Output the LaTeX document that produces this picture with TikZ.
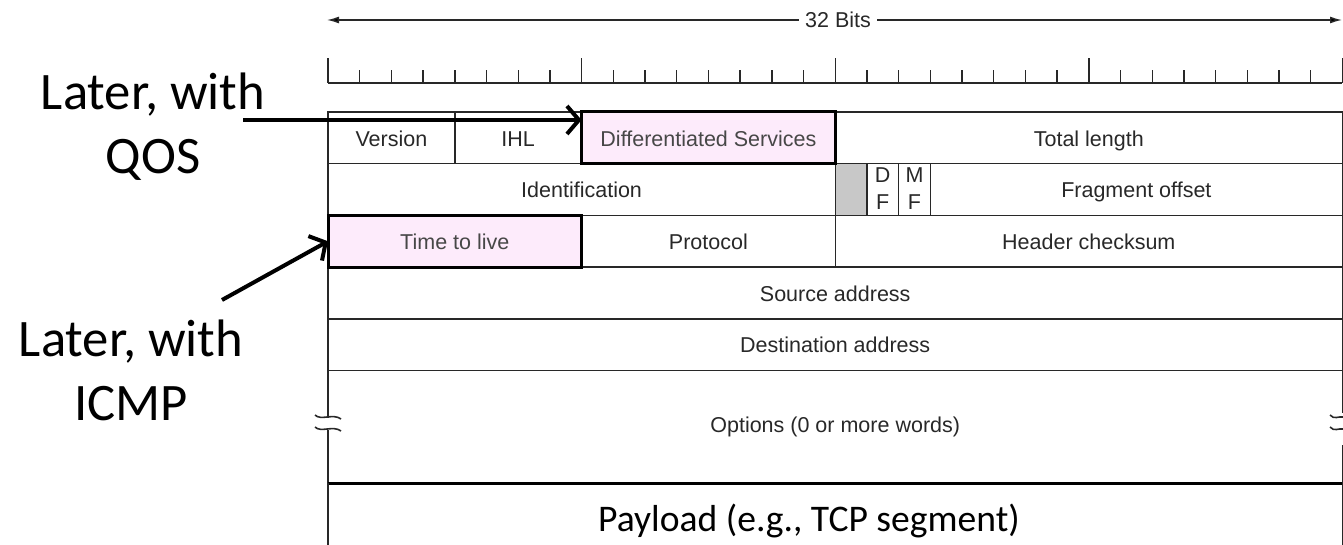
\documentclass[tikz,border=0pt]{standalone}
\usepackage{fontspec}
\setmainfont{Liberation Sans}
\newfontfamily\slidefont{Carlito}
\usetikzlibrary{arrows.meta,positioning}
\definecolor{ink}{RGB}{40,40,40}
\definecolor{qospink}{RGB}{253,235,251}
\definecolor{unused}{RGB}{200,200,200}

\begin{document}
\begin{tikzpicture}[x=1pt,y=-1pt,
		cell/.style={draw=ink, line width=1.4pt, rectangle, inner sep=0pt, outer sep=0pt,
			minimum height=51.7pt, text height=16.5pt, text depth=0pt,
			text=ink, font=\fontsize{21.5}{22}\selectfont},
		hot/.style={cell, fill=qospink, draw=black, line width=3pt, text=black!72},
		flag/.style={cell, minimum width=31.7pt, align=center, text height=40.9pt,
			font=\fontsize{21.5}{27}\selectfont},
		note/.style={align=center, font=\slidefont\fontsize{52.7}{64}\selectfont},
		pointer/.style={line width=4pt, -{Straight Barb[length=12pt,width=28pt]}},
		rule/.style={draw=ink, line width=1.4pt}]
		\useasboundingbox (0,0) rectangle (1343,545);

		% ruler and width arrow
		\draw[rule] (328,83) -- (1342.4,83);
		\foreach \i in {0,...,32}
			\draw[rule] ({328+31.7*\i},83) -- ({328+31.7*\i},70);
		\foreach \i in {0,8,...,32}
			\draw[rule] ({328+31.7*\i},83) -- ({328+31.7*\i},58);
		\draw (838,20) node [inner sep=6pt, text=ink, font=\fontsize{21.5}{22}\selectfont] (bits) {32 Bits};
		\coordinate (bitsl) at (327,20);
		\coordinate (bitsr) at (1342,20);
		\path[rule, -{Latex[length=12pt,width=7pt]}]
			(bits) edge (bitsl)
				edge (bitsr);

		% header rows
		\draw (391.4,137.85) node [cell, minimum width=126.8pt] (ver) {Version};
		\draw (518.2,137.85) node [cell, minimum width=126.8pt] (ihl) {IHL};
		\draw (1088.8,137.85) node [cell, minimum width=507.2pt] (tlen) {Total length};
		\draw (581.6,189.55) node [cell, minimum width=507.2pt] (ident) {Identification};
		\draw (851.05,189.55) node [cell, minimum width=31.7pt, fill=unused] (resv) {};
		\draw (882.75,189.55) node [flag] (df) {D\\F};
		\draw (914.45,189.55) node [flag] (mf) {M\\F};
		\draw (1136.35,189.55) node [cell, minimum width=412.1pt] (frag) {Fragment offset};
		\draw (708.4,241.25) node [cell, minimum width=253.6pt] (proto) {Protocol};
		\draw (1088.8,241.25) node [cell, minimum width=507.2pt] (cks) {Header checksum};
		\draw (835.2,292.95) node [cell, minimum width=1014.4pt] (src) {Source address};
		\draw (835.2,344.65) node [cell, minimum width=1014.4pt] (dst) {Destination address};
		\draw (708.4,137.85) node [hot, minimum width=253.6pt] (ds) {Differentiated Services};
		\draw (454.8,241.25) node [hot, minimum width=253.6pt] (ttl) {Time to live};

		% options, with broken sides
		\draw (835.2,426.75) node [text=ink, font=\fontsize{21.5}{22}\selectfont] (opt) {Options (0 or more words)};
		\draw[rule] (328,370.5) -- (328,418) (328,430) -- (328,483);
		\draw[rule] (1342.4,370.5) -- (1342.4,413) (1342.4,445) -- (1342.4,483);
		\draw[ink, line width=1.6pt] (315,415) .. controls (321,421) and (333,413) .. (341,419)
			(315,427) .. controls (321,433) and (333,425) .. (341,431);
		\draw[ink, line width=1.6pt] (1330,415) .. controls (1334,420) and (1339,416) .. (1343,417)
			(1330,427) .. controls (1334,432) and (1339,428) .. (1343,429);

		% payload
		\draw[black, line width=3pt] (328,483) -- (1342.4,483);
		\draw[rule] (328,483) -- (328,550) (1342.4,483) -- (1342.4,550);
		\draw (809,521) node [font=\slidefont\fontsize{37.6}{40}\selectfont] (pay) {Payload (e.g., TCP segment)};

		% side notes
		\draw (153,127) node [note] (qos) {Later, with\\QOS};
		\draw (131,370) node [note] (icmp) {Later, with\\ICMP};
		\coordinate (qostail) at (243,120);
		\coordinate (icmptail) at (222,300);
		\path[pointer]
			(qostail) edge (ds.west |- qostail)
			(icmptail) edge (ttl.west);
	\end{tikzpicture}
\end{document}
